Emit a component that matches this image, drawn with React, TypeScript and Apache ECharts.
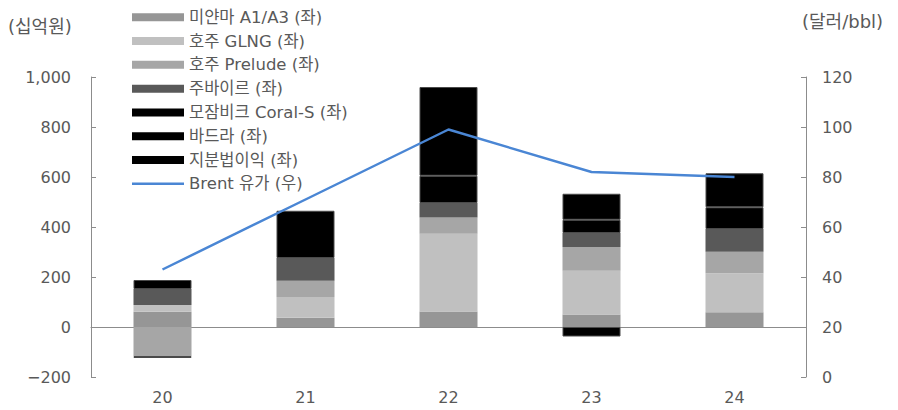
import React, { useEffect, useRef } from "react";
import * as echarts from "echarts";

const categories = ["20", "21", "22", "23", "24"];
const myanmar = [61, 37, 62, 50, 59];
const glng = [27, 83, 311, 175, 156];
const prelude = [-116, 65, 65, 95, 86];
const zubair = [64, 91, 58, 56, 91];
const coralS: (number | null)[] = [null, null, 109, 53, 87];
const badra: (number | null)[] = [36, 189, 355, 104, 136];
const equity: (number | null)[] = [-8, null, null, -38, null];
const brent = [43, 71, 99, 82, 80];

const leftTicks = { min: -200, max: 1000, interval: 200 };
const rightTicks = { min: 0, max: 120, interval: 20 };

const FONT = "'DejaVu Sans', 'Noto Sans CJK KR', sans-serif";
const LABEL = "#595959";
const AXIS = "#8c8c8c";

export default function App() {
  const ref = useRef<HTMLDivElement>(null);
  useEffect(() => {
    if (!ref.current) return;
    const chart = echarts.init(ref.current, null, { renderer: "svg" });
    const barSeries = (name: string, data: (number | null)[], color: string, border = false) => ({
      name,
      type: "bar",
      stack: "total",
      data,
      barWidth: 58,
      itemStyle: border
        ? { color, borderColor: "#4a4a4a", borderWidth: 1 }
        : { color, borderWidth: 0 },
      emphasis: { disabled: true },
    });
    chart.setOption({
      animation: false,
      textStyle: { fontFamily: FONT },
      grid: { left: 91, right: 92, top: 77, bottom: 33, containLabel: false, outerBoundsMode: "none" },
      legend: {
        orient: "vertical",
        left: 127,
        top: 4,
        itemWidth: 52,
        itemHeight: 8,
        itemGap: 7.3,
        itemStyle: { borderWidth: 0 },
        textStyle: { fontSize: 16.5, color: LABEL, fontFamily: FONT },
        data: [
          { name: "미얀마 A1/A3 (좌)", icon: "rect" },
          { name: "호주 GLNG (좌)", icon: "rect" },
          { name: "호주 Prelude (좌)", icon: "rect" },
          { name: "주바이르 (좌)", icon: "rect" },
          { name: "모잠비크 Coral-S (좌)", icon: "rect" },
          { name: "바드라 (좌)", icon: "rect" },
          { name: "지분법이익 (좌)", icon: "rect" },
          { name: "Brent 유가 (우)", icon: "path://M0,0H104V5H0Z" },
        ],
      },
      graphic: [
        {
          type: "text",
          left: 8,
          top: 17,
          style: { text: "(십억원)", fontSize: 18, fill: LABEL, fontFamily: FONT },
        },
        {
          type: "text",
          left: 802,
          top: 12,
          style: { text: "(달러/bbl)", fontSize: 18, fill: LABEL, fontFamily: FONT },
        },
      ],
      xAxis: [
        {
          type: "category",
          data: categories,
          position: "bottom",
          axisLine: { show: false, onZero: false },
          axisTick: { show: false },
          axisLabel: { color: LABEL, fontSize: 16, margin: 12, fontFamily: FONT },
        },
        {
          type: "category",
          data: categories,
          position: "bottom",
          axisLine: { show: true, onZero: true, lineStyle: { color: AXIS, width: 1 } },
          axisTick: { show: false },
          axisLabel: { show: false },
        },
      ],
      yAxis: [
        {
          type: "value",
          ...leftTicks,
          position: "left",
          axisLine: { show: true, lineStyle: { color: AXIS, width: 1 } },
          axisTick: { show: true, inside: true, length: 5, lineStyle: { color: AXIS } },
          splitLine: { show: false },
          axisLabel: {
            color: LABEL,
            fontSize: 16,
            margin: 20,
            fontFamily: FONT,
            formatter: (v: number) =>
              v < 0 ? "\u2212" + Math.abs(v).toLocaleString("en-US") : v.toLocaleString("en-US"),
          },
        },
        {
          type: "value",
          ...rightTicks,
          position: "right",
          axisLine: { show: true, lineStyle: { color: AXIS, width: 1 } },
          axisTick: { show: true, inside: true, length: 5, lineStyle: { color: AXIS } },
          splitLine: { show: false },
          axisLabel: { color: LABEL, fontSize: 16, margin: 16, fontFamily: FONT },
        },
      ],
      series: [
        barSeries("미얀마 A1/A3 (좌)", myanmar, "#969696"),
        barSeries("호주 GLNG (좌)", glng, "#c0c0c0"),
        barSeries("호주 Prelude (좌)", prelude, "#a6a6a6"),
        barSeries("주바이르 (좌)", zubair, "#595959"),
        barSeries("모잠비크 Coral-S (좌)", coralS, "#000000", true),
        barSeries("바드라 (좌)", badra, "#000000", true),
        barSeries("지분법이익 (좌)", equity, "#000000", true),
        {
          name: "Brent 유가 (우)",
          type: "line",
          yAxisIndex: 1,
          data: brent,
          symbol: "none",
          z: 10,
          lineStyle: { color: "#4a86d4", width: 2.5 },
          itemStyle: { color: "#4a86d4" },
          emphasis: { disabled: true },
        },
      ],
    });
    return () => chart.dispose();
  }, []);
  return <div ref={ref} style={{ width: 898, height: 410, position: "absolute", left: 0, top: 0 }} />;
}
